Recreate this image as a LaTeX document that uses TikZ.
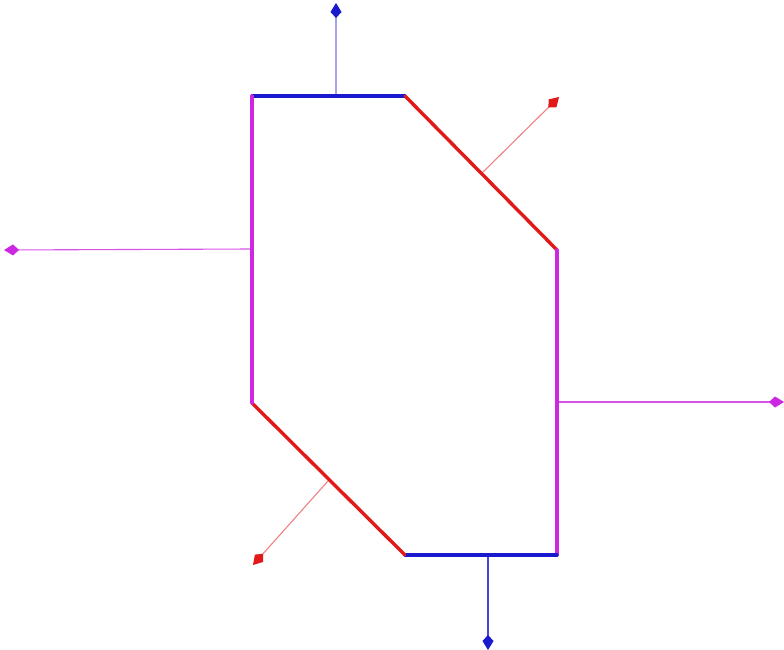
\documentclass[tikz,border=0pt]{standalone}
\usetikzlibrary{arrows.meta}
\definecolor{edgeblue}{RGB}{25,25,205}
\definecolor{edgered}{RGB}{225,25,25}
\definecolor{edgemag}{RGB}{205,40,225}
\tikzset{
  side/.style={line width=3.4pt, line cap=round},
  tip/.style={-{Kite[length=15pt,width=11pt,inset=6pt,#1]}},
  normal/.style={line width=1.1pt},
}
\begin{document}
\begin{tikzpicture}[x=1pt,y=-1pt]
\useasboundingbox (0,0) rectangle (784,650);
% hexagon corners
\coordinate (A) at (252,96);
\coordinate (B) at (405,96);
\coordinate (C) at (557,250);
\coordinate (D) at (557,555);
\coordinate (E) at (405,555);
\coordinate (F) at (252,403);
% outward normals
\coordinate (nTop0) at (336,96);   \coordinate (nTop1) at (336,3);
\coordinate (nTR0) at (483,172);   \coordinate (nTR1) at (559,97);
\coordinate (nL0) at (252,249);    \coordinate (nL1) at (4,250);
\coordinate (nR0) at (557,402);    \coordinate (nR1) at (784,402);
\coordinate (nBL0) at (328,481);   \coordinate (nBL1) at (253,565);
\coordinate (nB0) at (488,555);    \coordinate (nB1) at (488,650);
\draw[normal, edgeblue!40, tip={color=edgeblue}] (nTop0) -- (nTop1);
\draw[normal, edgered!55, tip={color=edgered}] (nTR0) -- (nTR1);
\draw[normal, edgemag!80, tip={color=edgemag}] (nL0) -- (nL1);
\draw[normal, edgemag!80, tip={color=edgemag}] (nR0) -- (nR1);
\draw[normal, edgered!55, tip={color=edgered}] (nBL0) -- (nBL1);
\draw[normal, edgeblue!80, tip={color=edgeblue}] (nB0) -- (nB1);
% sides
\draw[side, edgeblue] (A) -- (B);
\draw[side, edgered] (B) -- (C);
\draw[side, edgemag] (C) -- (D);
\draw[side, edgeblue] (D) -- (E);
\draw[side, edgered] (E) -- (F);
\draw[side, edgemag] (F) -- (A);
\end{tikzpicture}
\end{document}
